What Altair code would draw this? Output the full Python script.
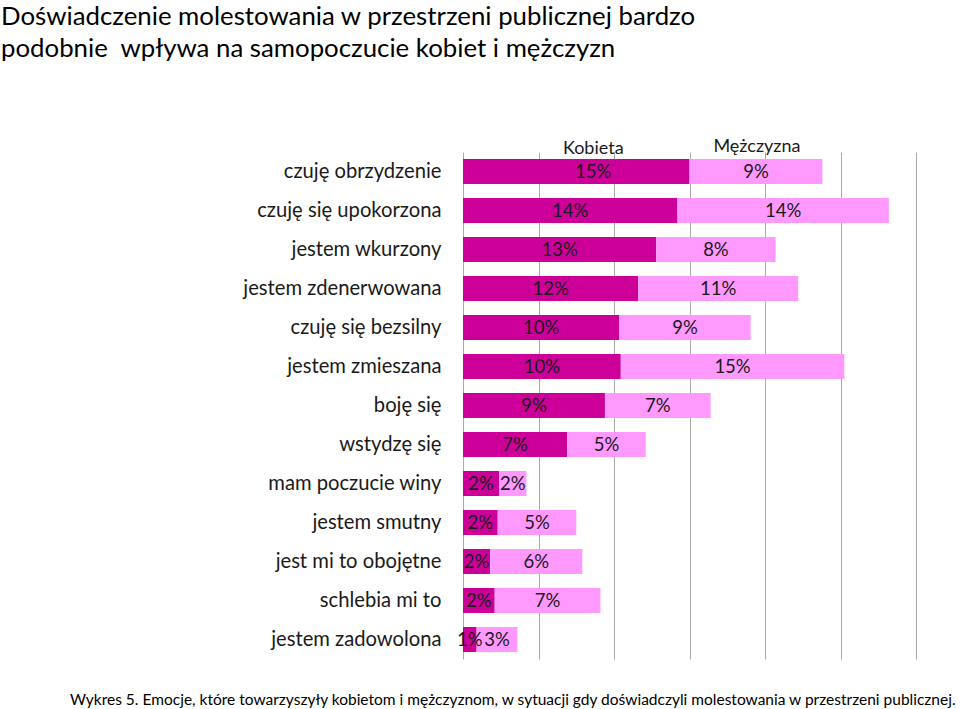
import altair as alt
import pandas as pd

categories = [
    "czuję obrzydzenie", "czuję się upokorzona", "jestem wkurzony",
    "jestem zdenerwowana", "czuję się bezsilny", "jestem zmieszana",
    "boję się", "wstydzę się", "mam poczucie winy", "jestem smutny",
    "jest mi to obojętne", "schlebia mi to", "jestem zadowolona",
]
kobieta = [15.0, 14.2, 12.8, 11.6, 10.35, 10.45, 9.4, 6.9, 2.4, 2.3, 1.8, 2.1, 0.9]
mezczyzna = [8.8, 14.0, 7.9, 10.6, 8.7, 14.8, 7.0, 5.2, 1.8, 5.2, 6.1, 7.0, 2.7]
series = ["Kobieta", "Mężczyzna"]
colors = ["#CC0099", "#FF99FF"]
grid_values = [0, 5, 10, 15, 20, 25, 30]
title_lines = [
    "Doświadczenie molestowania w przestrzeni publicznej bardzo",
    "podobnie\u00a0 wpływa na samopoczucie kobiet i mężczyzn",
]
caption = ("Wykres 5. Emocje, które towarzyszyły kobietom i mężczyznom, "
           "w sytuacji gdy doświadczyli molestowania w przestrzeni publicznej.")

rows = []
for i, c in enumerate(categories):
    start = 0.0
    for s, vals in zip(series, [kobieta, mezczyzna]):
        v = vals[i]
        rows.append(dict(cat=c, series=s, start=start, end=start + v,
                         mid=start + v / 2, label=f"{v:.0f}%", first=(i == 0)))
        start += v
df = pd.DataFrame(rows)

FONT = "Lato"
TXT = "#1a1a1a"

y = alt.Y("cat:N", sort=categories, title=None,
          scale=alt.Scale(paddingInner=0.36, paddingOuter=0.18),
          axis=alt.Axis(domain=False, ticks=False, labelPadding=22,
                        labelFontSize=20.2, labelFont=FONT, labelColor=TXT,
                        labelLimit=400))
x = alt.X("start:Q", title=None,
          scale=alt.Scale(domain=[0, 30], nice=False, zero=True),
          axis=alt.Axis(values=grid_values, labels=False, ticks=False,
                        domain=False, grid=True, gridColor="#aaaaaa",
                        gridWidth=1))

base = alt.Chart(df)

bars = base.mark_bar().encode(
    x=x, x2="end:Q", y=y,
    color=alt.Color("series:N", scale=alt.Scale(domain=series, range=colors),
                    legend=None),
)

labels = base.transform_filter(
    "!datum.first || datum.series != 'Kobieta'"
).mark_text(font=FONT, fontSize=18.5, color=TXT, baseline="middle").encode(
    x="mid:Q", y=y, text="label:N")

first_k = base.transform_filter(
    "datum.first && datum.series == 'Kobieta'"
).mark_text(font=FONT, fontSize=18.5, color=TXT, baseline="middle", dx=17).encode(
    x="mid:Q", y=y, text="label:N")

name_k = base.transform_filter(
    "datum.first && datum.series == 'Kobieta'"
).mark_text(font=FONT, fontSize=18, color=TXT, baseline="middle", dx=17, dy=-23).encode(
    x="mid:Q", y=y, text="series:N")

name_m = base.transform_filter(
    "datum.first && datum.series == 'Mężczyzna'"
).mark_text(font=FONT, fontSize=18, color=TXT, baseline="middle", dx=1, dy=-25).encode(
    x="mid:Q", y=y, text="series:N")

def free_text(t, xv, yv, size):
    return alt.Chart(pd.DataFrame({"t": [t]})).mark_text(
        font=FONT, fontSize=size, color="#000000", align="left",
        baseline="alphabetic").encode(
        x=alt.value(xv), y=alt.value(yv), text="t:N")

t1 = free_text(title_lines[0], -462, 25 - 152, 25.8)
t2 = free_text(title_lines[1], -462, 57 - 152, 25.8)
cap = free_text(caption, 70 - 463, 705 - 152, 15.5)

chart = alt.layer(bars, labels, first_k, name_k, name_m, t1, t2, cap).properties(
    width=453, height=507, autosize="none",
    padding={"left": 463, "top": 152, "right": 44, "bottom": 50},
).configure_view(stroke=None)

chart.save("out.html", embed_options={"renderer": "svg", "actions": False})
